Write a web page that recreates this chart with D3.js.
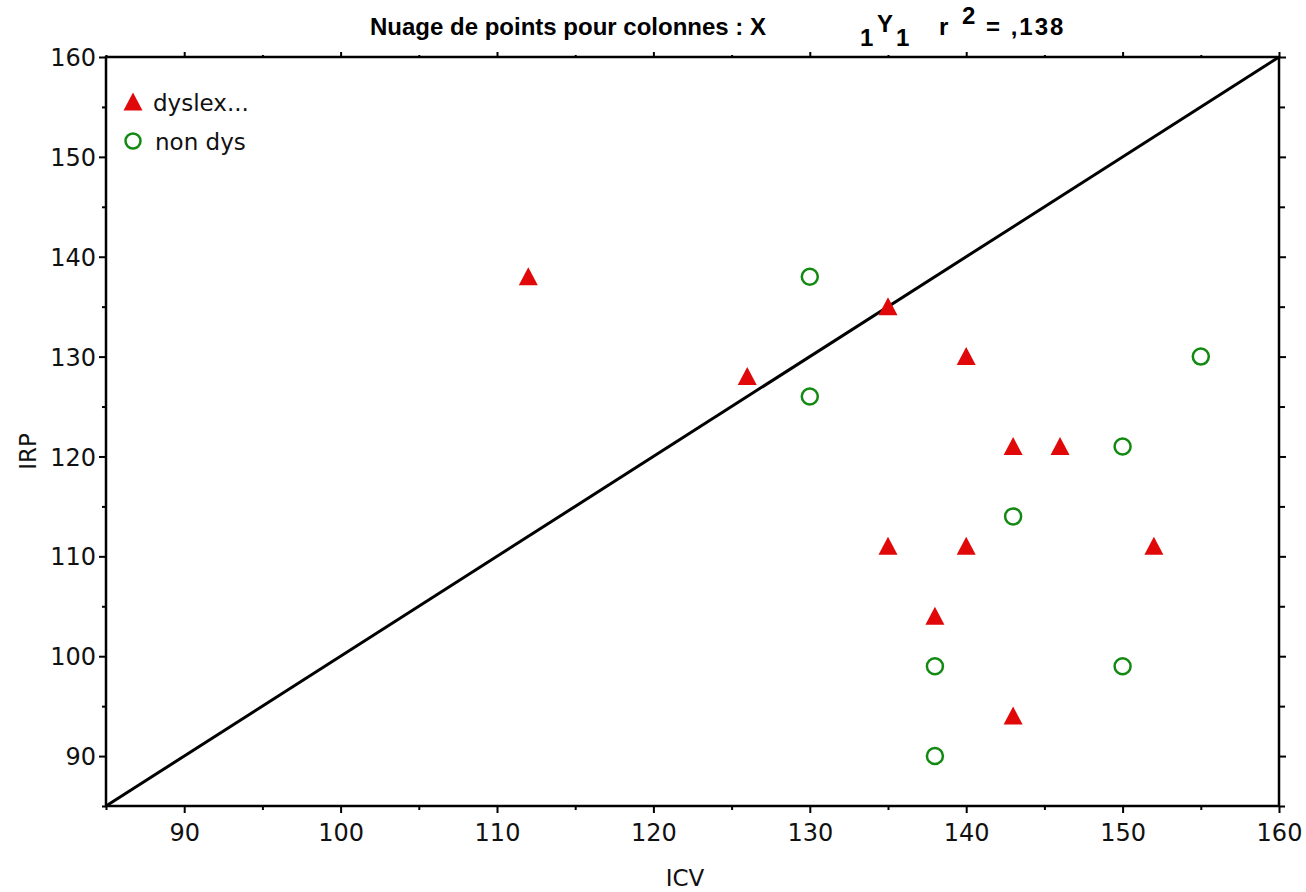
<!DOCTYPE html>
<html>
<head>
<meta charset="utf-8">
<script src="https://cdn.jsdelivr.net/npm/d3@7"></script>
<style>
  body { margin: 0; background: #fff; }
  svg { display: block; }
  .tick text { font-family: "DejaVu Sans", sans-serif; font-size: 24px; fill: #111; }
  .lbl { font-family: "DejaVu Sans", sans-serif; font-size: 23px; fill: #111; }
  .ttl { font-family: "Liberation Sans Narrow", "Liberation Sans", sans-serif; font-size: 24px; font-weight: bold; fill: #000; }
</style>
</head>
<body>
<svg id="svg" width="1306" height="892"></svg>
<script>
// series: ICV (x) vs IRP (y)
const dysX = [112, 126, 135, 140, 143, 146, 135, 140, 152, 138, 143];
const dysY = [138, 128, 135, 130, 121, 121, 111, 111, 111, 104, 94];
const nonX = [130, 130, 155, 150, 143, 138, 150, 138];
const nonY = [138, 126, 130, 121, 114, 99, 99, 90];
const xTicks = [90, 100, 110, 120, 130, 140, 150, 160];
const yTicks = [90, 100, 110, 120, 130, 140, 150, 160];
const minorTicks = [85, 95, 105, 115, 125, 135, 145, 155];
const lineEnds = [85, 160];
const legendNames = ["dyslex...", " non dys"];

const svg = d3.select("#svg");
const L = 106, R = 1279, T = 57, B = 806;
const x = d3.scaleLinear().domain([85, 160]).range([L, R]);
const y = d3.scaleLinear().domain([85, 160]).range([B, T]);

function axis(gen, tr, ticks, size, fmt) {
    const g = svg.append("g").attr("transform", tr)
        .call(gen.tickValues(ticks).tickSize(size).tickFormat(fmt));
    g.select(".domain").remove();
    g.selectAll(".tick line").attr("stroke", "#000").attr("stroke-width", 2);
    return g;
}
const none = () => "";
// minor ticks first
axis(d3.axisLeft(y), `translate(${L},0)`, minorTicks, 4, none);
axis(d3.axisBottom(x), `translate(0,${B})`, minorTicks, 4, none);
axis(d3.axisRight(y), `translate(${R},0)`, minorTicks, 6, none);
axis(d3.axisTop(x), `translate(0,${T})`, minorTicks, 2, none);
// majors
const gl = axis(d3.axisLeft(y), `translate(${L},0)`, yTicks, 7, d3.format("d"));
gl.selectAll(".tick text").attr("x", -10).attr("dy", "0.36em");
const gb = axis(d3.axisBottom(x), `translate(0,${B})`, xTicks, 7, d3.format("d"));
gb.selectAll(".tick text").attr("y", 18).attr("dy", "0.71em");
axis(d3.axisRight(y), `translate(${R},0)`, yTicks, 7, none);
axis(d3.axisTop(x), `translate(0,${T})`, xTicks, 5, none);

// frame
svg.append("rect").attr("x", L).attr("y", T).attr("width", R - L).attr("height", B - T)
    .attr("fill", "none").attr("stroke", "#000").attr("stroke-width", 2.5);

// identity line
svg.append("line")
    .attr("x1", x(lineEnds[0])).attr("y1", y(lineEnds[0]))
    .attr("x2", x(lineEnds[1])).attr("y2", y(lineEnds[1]))
    .attr("stroke", "#000").attr("stroke-width", 3);

// slightly tall triangle like the original
const tallTriangle = {
    draw(ctx) {
        ctx.moveTo(0, -9.5);
        ctx.lineTo(9.5, 8.5);
        ctx.lineTo(-9.5, 8.5);
        ctx.closePath();
    }
};
const tri = d3.symbol().type(tallTriangle);

svg.append("g").selectAll("path").data(dysX).join("path")
    .attr("transform", (d, i) => `translate(${x(d)},${y(dysY[i])})`)
    .attr("d", tri)
    .attr("fill", "#e00808");

svg.append("g").selectAll("circle").data(nonX).join("circle")
    .attr("cx", d => x(d)).attr("cy", (d, i) => y(nonY[i]))
    .attr("r", 8).attr("fill", "none").attr("stroke", "#128a12").attr("stroke-width", 2.5);

// legend
svg.append("path").attr("transform", "translate(133,102)").attr("d", tri).attr("fill", "#e00808");
svg.append("text").attr("class", "lbl").attr("x", 153).attr("y", 111).text(legendNames[0]);
svg.append("circle").attr("cx", 133).attr("cy", 141).attr("r", 7.5)
    .attr("fill", "none").attr("stroke", "#128a12").attr("stroke-width", 2.5);
svg.append("text").attr("class", "lbl").attr("x", 155).attr("y", 150).text(legendNames[1]);

// axis labels
svg.append("text").attr("class", "lbl").attr("x", 685).attr("y", 886)
    .attr("text-anchor", "middle").text("ICV");
svg.append("text").attr("class", "lbl")
    .attr("transform", `translate(36,${y(120.5)}) rotate(-90)`)
    .attr("text-anchor", "middle").text("IRP");

// title
const t = svg.append("g").attr("class", "ttl");
t.append("text").attr("x", 370).attr("y", 35).text("Nuage de points pour colonnes : X");
t.append("text").attr("x", 860).attr("y", 46).text("1");
t.append("text").attr("x", 877).attr("y", 32).text("Y");
t.append("text").attr("x", 896).attr("y", 46).text("1");
t.append("text").attr("x", 939).attr("y", 35).text("r");
t.append("text").attr("x", 962).attr("y", 24).text("2");
t.append("text").attr("x", 986).attr("y", 35).attr("letter-spacing", 2).text("= ,138");
</script>
</body>
</html>
